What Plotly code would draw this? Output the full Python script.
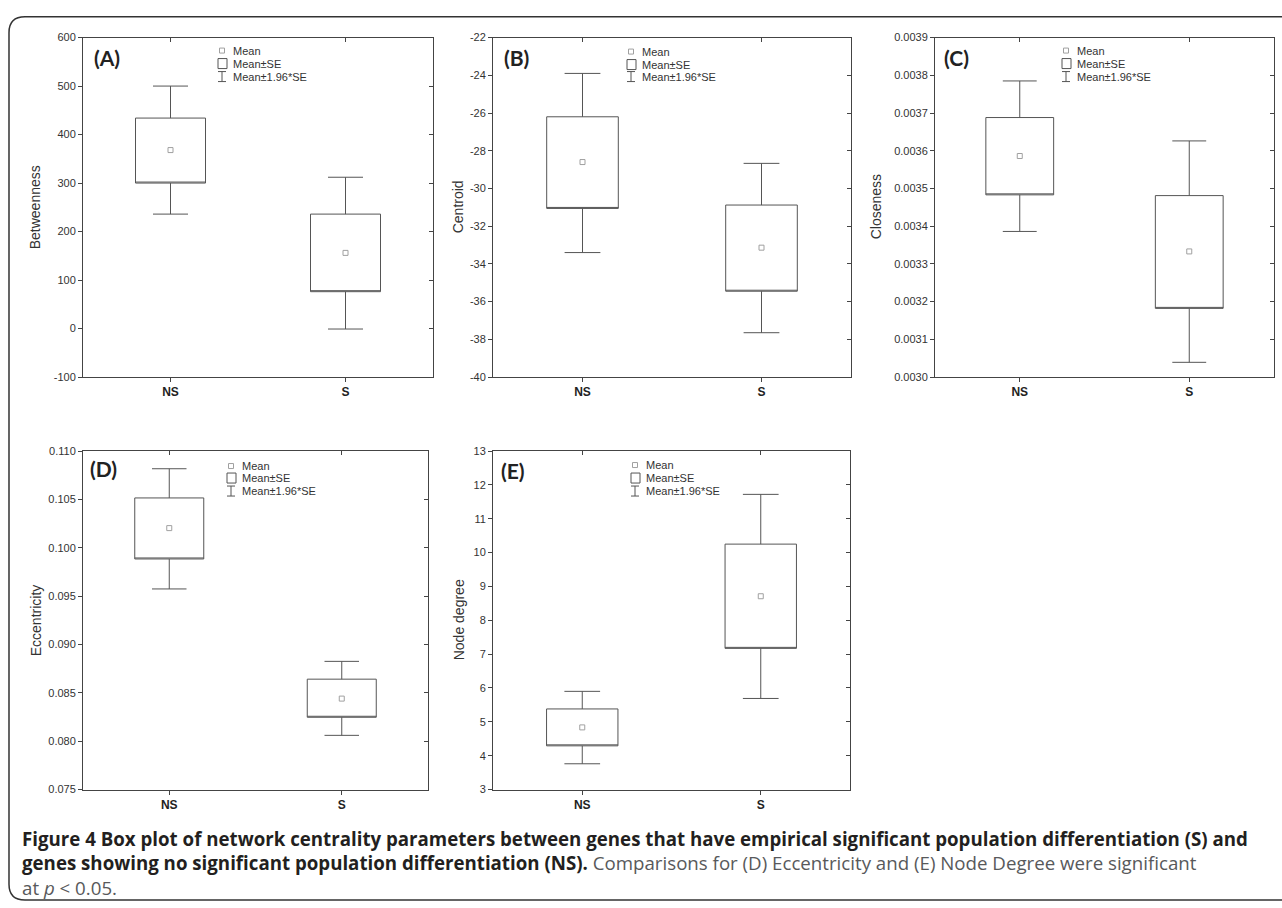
import plotly.graph_objects as go

W, H = 1282, 908

# ---------------- data ----------------
categories = ["NS", "S"]
cat_pos = [0, 1]

# Betweenness
betw_ci_low = [236, -1]
betw_se_low = [300, 76]
betw_mean = [368, 156]
betw_se_high = [434, 236]
betw_ci_high = [500, 312]

# Centroid
cent_ci_low = [-33.4, -37.65]
cent_se_low = [-31.06, -35.45]
cent_mean = [-28.6, -33.14]
cent_se_high = [-26.2, -30.88]
cent_ci_high = [-23.9, -28.67]

# Closeness
clos_ci_low = [0.003386, 0.003039]
clos_se_low = [0.003483, 0.003182]
clos_mean = [0.003586, 0.003333]
clos_se_high = [0.003688, 0.003481]
clos_ci_high = [0.003785, 0.003626]

# Eccentricity
ecc_ci_low = [0.09574, 0.0806]
ecc_se_low = [0.09884, 0.08247]
ecc_mean = [0.10203, 0.0844]
ecc_se_high = [0.10515, 0.08641]
ecc_ci_high = [0.10817, 0.08825]

# Node degree
deg_ci_low = [3.76, 5.69]
deg_se_low = [4.29, 7.17]
deg_mean = [4.835, 8.71]
deg_se_high = [5.38, 10.25]
deg_ci_high = [5.9, 11.72]

# y-axis ticks
betw_ticks = [-100, 0, 100, 200, 300, 400, 500, 600]
cent_ticks = [-40, -38, -36, -34, -32, -30, -28, -26, -24, -22]
clos_ticks = [0.0030, 0.0031, 0.0032, 0.0033, 0.0034, 0.0035, 0.0036, 0.0037, 0.0038, 0.0039]
ecc_ticks = [0.075, 0.080, 0.085, 0.090, 0.095, 0.100, 0.105, 0.110]
deg_ticks = [3, 4, 5, 6, 7, 8, 9, 10, 11, 12, 13]

panels = [
    dict(label="(A)", title="Betweenness", lo=betw_ci_low, q1=betw_se_low, mean=betw_mean,
         q3=betw_se_high, hi=betw_ci_high, ticks=betw_ticks, fmt="{:.0f}",
         box=(83, 433, 32, 376), leg=(139, 148, [-13, -26, -39]), lab=(9, -20), tshift=-48),
    dict(label="(B)", title="Centroid", lo=cent_ci_low, q1=cent_se_low, mean=cent_mean,
         q3=cent_se_high, hi=cent_ci_high, ticks=cent_ticks, fmt="{:.0f}",
         box=(493, 851, 32, 376), leg=(138, 147, [-14, -27, -39]), lab=(9, -20), tshift=-35),
    dict(label="(C)", title="Closeness", lo=clos_ci_low, q1=clos_se_low, mean=clos_mean,
         q3=clos_se_high, hi=clos_ci_high, ticks=clos_ticks, fmt="{:.4f}",
         box=(935, 1274, 32, 376), leg=(131, 140, [-13, -26, -39]), lab=(7, -20), tshift=-59),
    dict(label="(D)", title="Eccentricity", lo=ecc_ci_low, q1=ecc_se_low, mean=ecc_mean,
         q3=ecc_se_high, hi=ecc_ci_high, ticks=ecc_ticks, fmt="{:.3f}",
         box=(83, 428, 451, 794), leg=(148, 157, [-15, -27, -40]), lab=(5, -17), tshift=-47),
    dict(label="(E)", title="Node degree", lo=deg_ci_low, q1=deg_se_low, mean=deg_mean,
         q3=deg_se_high, hi=deg_ci_high, ticks=deg_ticks, fmt="{:.0f}",
         box=(493, 850, 451, 794), leg=(142, 151, [-14, -27, -40]), lab=(6, -19), tshift=-34),
]

AX_COL = "#444444"
TXT_COL = "#333333"
LINE_COL = "#555555"
TICK_FONT = dict(family="Liberation Sans, Arial, sans-serif", size=11, color=TXT_COL)

fig = go.Figure()
layout = {}
annotations = []
shapes = []

for i, p in enumerate(panels):
    k = i + 1
    sfx = "" if k == 1 else str(k)
    xa, ya = "x" + sfx, "y" + sfx
    x0p, x1p, y0p, y1p = p["box"]
    xdom = [x0p / W, x1p / W]
    ydom = [1 - y1p / H, 1 - y0p / H]
    yr = [p["ticks"][0], p["ticks"][-1]]
    ticktext = [p["fmt"].format(v) for v in p["ticks"]]

    fig.add_trace(go.Box(
        x=cat_pos, q1=p["q1"], median=p["q1"], q3=p["q3"],
        lowerfence=p["lo"], upperfence=p["hi"],
        width=0.4, whiskerwidth=0.5, boxpoints=False,
        line=dict(color=LINE_COL, width=1), fillcolor="white",
        xaxis=xa, yaxis=ya, showlegend=False, hoverinfo="skip",
    ))
    fig.add_trace(go.Scatter(
        x=cat_pos, y=p["mean"], mode="markers",
        marker=dict(symbol="square-open", size=5, color="#a0a0a0", line=dict(width=1)),
        xaxis=xa, yaxis=ya, showlegend=False, hoverinfo="skip",
    ))

    layout["xaxis" + sfx] = dict(
        domain=xdom, anchor=ya, range=[-0.5, 1.5],
        tickvals=cat_pos, ticktext=["<b>%s</b>" % c for c in categories],
        tickfont=dict(family="Liberation Sans, Arial, sans-serif", size=12, color="#222"),
        ticks="outside", ticklen=4, tickcolor=AX_COL,
        showline=True, linecolor=AX_COL, linewidth=1, mirror=True,
        showgrid=False, zeroline=False, fixedrange=True,
    )
    layout["yaxis" + sfx] = dict(
        domain=ydom, anchor=xa, range=yr,
        tickvals=p["ticks"], ticktext=ticktext, tickfont=TICK_FONT,
        ticks="outside", ticklen=4, tickcolor=AX_COL,
        showline=True, linecolor=AX_COL, linewidth=1, mirror=True,
        showgrid=False, zeroline=False, fixedrange=True,
    )

    # mirrored inward ticks (top / right)
    j = k + 5
    layout["xaxis%d" % j] = dict(
        overlaying=xa, side="top", anchor=ya, range=[-0.5, 1.5],
        tickvals=cat_pos, ticks="inside", ticklen=4, tickcolor=AX_COL,
        showticklabels=False, showline=False, showgrid=False, zeroline=False, fixedrange=True,
    )
    layout["yaxis%d" % j] = dict(
        overlaying=ya, side="right", anchor=xa, range=yr,
        tickvals=p["ticks"], ticks="inside", ticklen=4, tickcolor=AX_COL,
        showticklabels=False, showline=False, showgrid=False, zeroline=False, fixedrange=True,
    )
    fig.add_trace(go.Scatter(x=[None], y=[None], xaxis="x%d" % j, yaxis="y%d" % j,
                             mode="markers", showlegend=False, hoverinfo="skip"))

    xd, yd = xa + " domain", ya + " domain"

    # y-axis title
    annotations.append(dict(
        text=p["title"], xref=xd, yref=yd, x=0, y=0.5, xshift=p["tshift"],
        textangle=-90, showarrow=False, xanchor="center", yanchor="middle",
        font=dict(family="Liberation Sans, Arial, sans-serif", size=14, color=TXT_COL),
    ))

    # panel label
    annotations.append(dict(
        text="<b>%s</b>" % p["label"], xref=xd, yref=yd, x=0, y=1,
        xshift=p["lab"][0], yshift=p["lab"][1], showarrow=False,
        xanchor="left", yanchor="middle",
        font=dict(family="Lato, sans-serif", size=21, color="#222"),
    ))

    # in-plot legend
    sx, tx, rows = p["leg"]
    for txt, dy in zip(["Mean", "Mean\u00b1SE", "Mean\u00b11.96*SE"], rows):
        annotations.append(dict(
            text=txt, xref=xd, yref=yd, x=0, y=1, xshift=tx, yshift=dy,
            showarrow=False, xanchor="left", yanchor="middle",
            font=dict(family="Liberation Sans, Arial, sans-serif", size=11, color=TXT_COL),
        ))
    # mean symbol
    shapes.append(dict(type="rect", xref=xd, yref=yd, xsizemode="pixel", ysizemode="pixel",
                       xanchor=0, yanchor=1, x0=sx - 2.5, x1=sx + 2.5,
                       y0=rows[0] - 2.5, y1=rows[0] + 2.5,
                       line=dict(color="#a0a0a0", width=1), fillcolor="rgba(0,0,0,0)"))
    # box symbol
    shapes.append(dict(type="rect", xref=xd, yref=yd, xsizemode="pixel", ysizemode="pixel",
                       xanchor=0, yanchor=1, x0=sx - 4, x1=sx + 5,
                       y0=rows[1] - 5, y1=rows[1] + 5,
                       line=dict(color=LINE_COL, width=1), fillcolor="rgba(0,0,0,0)"))
    # whisker symbol
    cy = rows[2]
    shapes.append(dict(type="path", xref=xd, yref=yd, xsizemode="pixel", ysizemode="pixel",
                       xanchor=0, yanchor=1,
                       path="M%g,%g H%g M%g,%g V%g M%g,%g H%g" % (
                           sx - 4, cy + 5, sx + 4, sx, cy + 5, cy - 5, sx - 4, cy - 5, sx + 4),
                       line=dict(color=LINE_COL, width=1)))

# outer rounded frame
def px(x):
    return x / W

def py(y):
    return 1 - y / H

frame_path = "M%f,%f L%f,%f Q%f,%f %f,%f L%f,%f Q%f,%f %f,%f L%f,%f" % (
    px(1300), py(11), px(25), py(11), px(9), py(11), px(9), py(27),
    px(9), py(890), px(9), py(906), px(25), py(906), px(1300), py(906))
shapes.append(dict(type="path", xref="paper", yref="paper", path=frame_path,
                   line=dict(color="#333333", width=1.5), layer="below"))

# caption (one multi-line block)
CAP_FONT = dict(family="Open Sans, sans-serif", size=18.7, color="#231f20")
caption_lines = [
    "<b>Figure 4 Box plot of network centrality parameters between genes that have empirical "
    "significant population differentiation (S) and</b>",
    "<b>genes showing no significant population differentiation (NS).</b> "
    "<span style='color:#58595b'>Comparisons for (D) Eccentricity and (E) Node Degree were significant</span>",
    "<span style='color:#58595b'>at <i>p</i> &lt; 0.05.</span>",
]
annotations.append(dict(
    text="<br>".join(caption_lines), xref="paper", yref="paper", x=px(20), y=py(868),
    xanchor="left", yanchor="middle", align="left", showarrow=False, font=CAP_FONT,
))

layout.update(dict(
    width=W, height=H, margin=dict(l=0, r=0, t=0, b=0),
    paper_bgcolor="white", plot_bgcolor="white",
    annotations=annotations, shapes=shapes, showlegend=False,
))
fig.update_layout(**layout)

fig.write_html(
    "out.html",
    config={"displayModeBar": False},
    post_script="document.body.style.margin='0';document.body.style.overflow='hidden';",
)
